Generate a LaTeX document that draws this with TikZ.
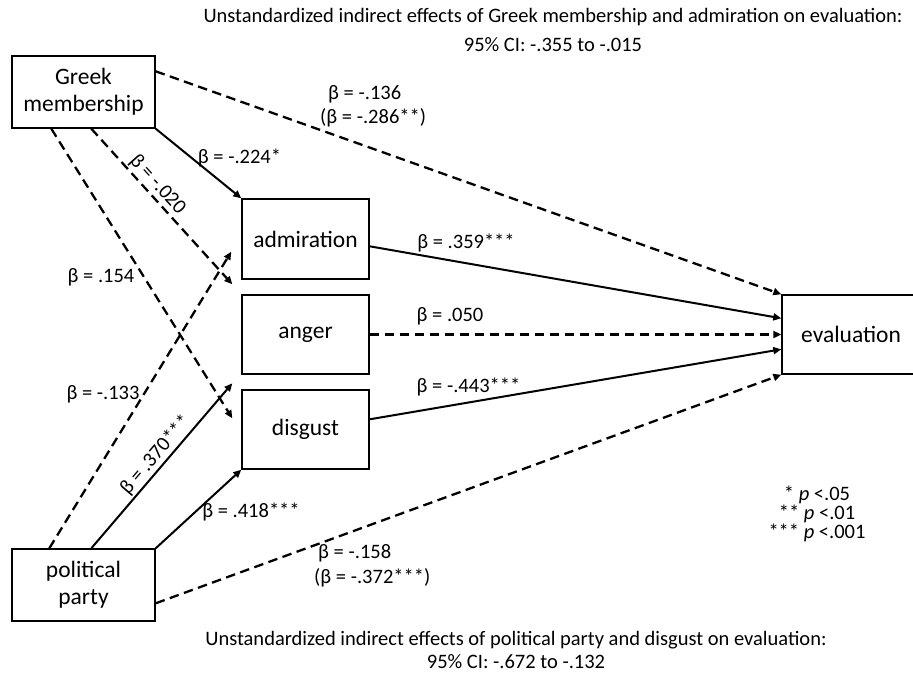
\documentclass[tikz,border=0pt]{standalone}
\usepackage{fontspec}
\setmainfont{Carlito}
\usetikzlibrary{arrows.meta,calc}
\begin{document}
\begin{tikzpicture}[x=1pt,y=-1pt,
  box/.style={draw, line width=1.4pt, fill=white, inner sep=0pt, align=center, font=\fontsize{23.5}{27}\selectfont},
  lbl/.style={inner sep=0pt, font=\fontsize{20.5}{24.5}\selectfont},
  ttl/.style={inner sep=0pt, font=\fontsize{20.5}{24.5}\selectfont},
  tip/.style={-{Triangle[length=8pt,width=7pt]}},
  solidarrow/.style={line width=2pt, tip},
  dasharrow/.style={line width=2.3pt, dash pattern=on 9.5pt off 5.5pt, tip},
]
\useasboundingbox (0,0) rectangle (913,675);

% boxes
\node[box, minimum width=143pt, minimum height=72pt] (greek) at (83.5,92) {Greek\\membership};
\node[box, minimum width=143pt, minimum height=72pt] (party) at (83.5,585) {political\\party};
\node[box, minimum width=127pt, minimum height=80pt] (adm) at (305.5,239) {admiration};
\node[box, minimum width=127pt, minimum height=79pt] (anger) at (305.5,334.5) {anger};
\node[box, minimum width=127pt, minimum height=79pt] (disg) at (305.5,429.5) {disgust};
\node[box, minimum width=138pt, minimum height=79pt] (eval) at (851,334.5) {evaluation};

% connector end points
\coordinate (gE) at ($(greek.north east)+(0,16)$);
\coordinate (gB1) at ($(greek.south west)+(80,0)$);
\coordinate (gB2) at ($(greek.south west)+(40,0)$);
\coordinate (pT1) at ($(party.north west)+(38,0)$);
\coordinate (pT2) at ($(party.north west)+(80,0)$);
\coordinate (pE) at ($(party.north east)+(0,55)$);
\coordinate (tAnger) at ($(anger.north west)+(-9,-10)$);
\coordinate (tDisg) at ($(disg.north west)+(-9,29)$);
\coordinate (tAdm) at ($(adm.south west)+(-10,-28)$);
\coordinate (tAnger2) at ($(disg.north west)+(-9,-6)$);
\coordinate (aOut) at ($(adm.north east)+(0,48)$);
\coordinate (dOut) at ($(disg.north east)+(0,30)$);
\coordinate (eIn1) at ($(eval.north west)+(0,24)$);
\coordinate (eIn3) at ($(eval.north west)+(0,55)$);

% connectors
\draw[dasharrow] (gE) -- (eval.north west);
\draw[solidarrow] (greek.south east) -- (adm.north west);
\draw[dasharrow] (gB1) -- node[lbl, sloped, pos=0.41, above=1.5pt] (l020) {β = -.020} (tAnger);
\draw[dasharrow] (gB2) -- (tDisg);
\draw[dasharrow] (pT1) -- (tAdm);
\draw[solidarrow] (pT2) -- node[lbl, sloped, pos=0.52, above=1.5pt] (l370) {β = .370***} (tAnger2);
\draw[solidarrow] (party.north east) -- (disg.south west);
\draw[dasharrow] (pE) -- (eval.south west);
\draw[solidarrow] (aOut) -- (eIn1);
\draw[dasharrow] (anger.east) -- (eval.west);
\draw[solidarrow] (dOut) -- (eIn3);

% labels
\node[lbl, anchor=west] (l136a) at (328,94) {β = -.136};
\node[lbl, anchor=west] (l136b) at (320,118) {(β = -.286**)};
\node[lbl] (l224) at (239.5,158) {β = -.224*};
\node[lbl] (l154) at (101,277) {β = .154};
\node[lbl] (l133) at (103,394) {β = -.133};
\node[lbl] (l418) at (251,512) {β = .418***};
\node[lbl] (l359) at (466,243) {β = .359***};
\node[lbl] (l050) at (450,316) {β = .050};
\node[lbl] (l443) at (468.5,387) {β = -.443***};
\node[lbl, anchor=west] (l158a) at (318,553) {β = -.158};
\node[lbl, anchor=west] (l158b) at (314,578) {(β = -.372***)};

% legend
\node[lbl, align=center, font=\fontsize{20.5}{19}\selectfont] (legend) at (817,514)
  {* \textit{p} <.05\\** \textit{p} <.01\\*** \textit{p} <.001};

% titles
\node[ttl] (t1) at (553,17) {Unstandardized indirect effects of Greek membership and admiration on evaluation:};
\node[ttl] (t2) at (553,45) {95\% CI: -.355 to -.015};
\node[ttl] (b1) at (516,640) {Unstandardized indirect effects of political party and disgust on evaluation:};
\node[ttl] (b2) at (516,662) {95\% CI: -.672 to -.132};
\end{tikzpicture}
\end{document}
